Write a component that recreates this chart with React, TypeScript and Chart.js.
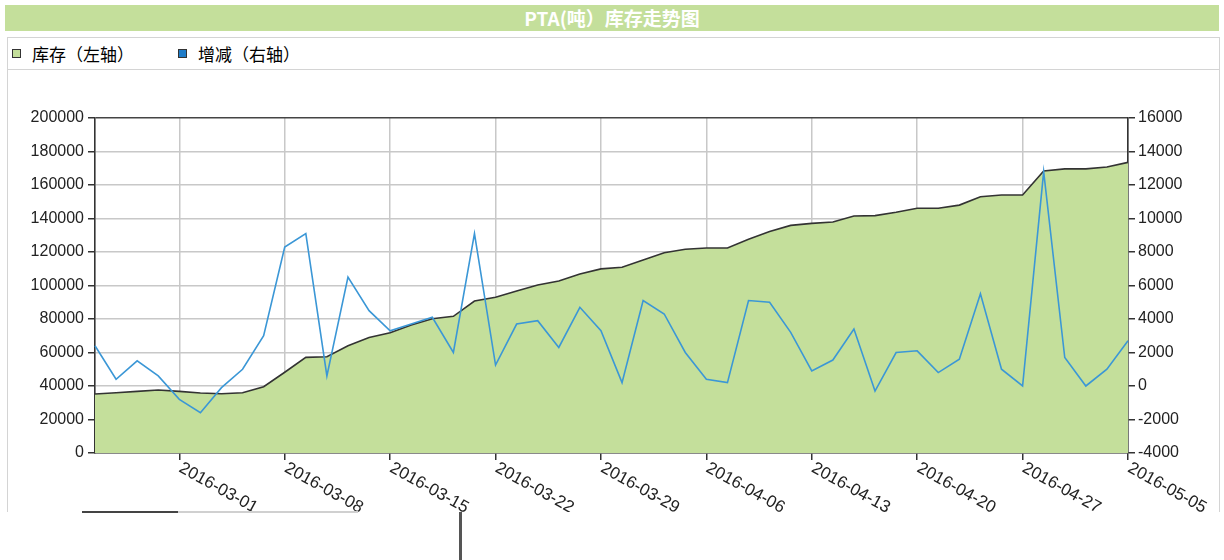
import React, { useEffect, useRef } from 'react';
import { Chart, registerables } from 'chart.js';

Chart.register(...registerables);

const dates = [
  '2016-02-24', '2016-02-25', '2016-02-26', '2016-02-29',
  '2016-03-01', '2016-03-02', '2016-03-03', '2016-03-04', '2016-03-07',
  '2016-03-08', '2016-03-09', '2016-03-10', '2016-03-11', '2016-03-14',
  '2016-03-15', '2016-03-16', '2016-03-17', '2016-03-18', '2016-03-21',
  '2016-03-22', '2016-03-23', '2016-03-24', '2016-03-25', '2016-03-28',
  '2016-03-29', '2016-03-30', '2016-03-31', '2016-04-01', '2016-04-05',
  '2016-04-06', '2016-04-07', '2016-04-08', '2016-04-11', '2016-04-12',
  '2016-04-13', '2016-04-14', '2016-04-15', '2016-04-18', '2016-04-19',
  '2016-04-20', '2016-04-21', '2016-04-22', '2016-04-25', '2016-04-26',
  '2016-04-27', '2016-04-28', '2016-04-29', '2016-05-03', '2016-05-04',
  '2016-05-05',
];

// 库存 (left axis, tons)
const inventory = [
  35200, 36000, 36800, 37600, 36800, 35800, 35400, 36000, 39600, 48200,
  57100, 57500, 64000, 69000, 71800, 76400, 80200, 81600, 90700, 93000,
  96700, 100300, 102700, 106900, 109900, 110900, 115200, 119600, 121600, 122400,
  122400, 127600, 132300, 135900, 137100, 137900, 141500, 141700, 143700, 146100,
  146100, 148000, 153000, 154000, 154000, 168400, 169600, 169600, 170700, 173500,
];

// 增减 (right axis, tons)
const change = [
  2400, 400, 1500, 600, -800, -1600, -100, 1000, 3000, 8300,
  9100, 600, 6500, 4500, 3300, 3700, 4100, 2000, 9100, 1250,
  3700, 3900, 2300, 4700, 3300, 200, 5100, 4300, 2000, 400,
  200, 5100, 5000, 3200, 900, 1550, 3400, -300, 2000, 2100,
  800, 1600, 5500, 1000, 0, 12800, 1700, 0, 1000, 2700,
];

const xTickLabels = [
  '2016-03-01', '2016-03-08', '2016-03-15', '2016-03-22', '2016-03-29',
  '2016-04-06', '2016-04-13', '2016-04-20', '2016-04-27', '2016-05-05',
];

const seriesNames = ['库存（左轴）', '增减（右轴）'];
const chartTitle = 'PTA(吨）库存走势图';

const FONT = '"Liberation Sans", Arial, sans-serif';
const CJK = '"Noto Sans CJK SC", "Liberation Sans", sans-serif';
const GREEN = '#c4df9b';
const BLUE = '#3b97d6';

export default function App() {
  const ref = useRef<HTMLCanvasElement>(null);

  useEffect(() => {
    const xLabelPlugin = {
      id: 'xLabels',
      afterDraw(chart: any) {
        const scale = chart.scales.x;
        const ctx = chart.ctx;
        ctx.save();
        ctx.font = `17px ${FONT}`;
        ctx.fillStyle = '#222';
        ctx.textAlign = 'left';
        ctx.textBaseline = 'middle';
        scale.ticks.forEach((t: any) => {
          const x = scale.getPixelForValue(t.value);
          ctx.save();
          ctx.translate(x + 1, scale.top + 14);
          ctx.rotate((29 * Math.PI) / 180);
          ctx.fillText(dates[t.value], 0, 0);
          ctx.restore();
        });
        ctx.restore();
      },
    };

    const chart = new Chart(ref.current as HTMLCanvasElement, {
      type: 'line',
      data: {
        labels: dates,
        datasets: [
          {
            label: seriesNames[1],
            data: change,
            yAxisID: 'y1',
            borderColor: BLUE,
            borderWidth: 1.6,
            pointRadius: 0,
            fill: false,
            tension: 0,
            order: 0,
          },
          {
            label: seriesNames[0],
            data: inventory,
            yAxisID: 'y',
            borderColor: '#333333',
            backgroundColor: GREEN,
            borderWidth: 1.6,
            pointRadius: 0,
            fill: 'start',
            tension: 0,
            order: 1,
          },
        ],
      },
      options: {
        animation: false,
        responsive: false,
        maintainAspectRatio: false,
        layout: { padding: { top: 48, left: 0, right: 0, bottom: 0 } },
        plugins: {
          legend: { display: false },
          tooltip: { enabled: false },
          title: { display: false },
        },
        scales: {
          x: {
            type: 'category',
            offset: false,
            afterBuildTicks: (scale: any) => {
              scale.ticks = scale.ticks.filter((t: any) => xTickLabels.includes(dates[t.value]));
            },
            afterFit: (scale: any) => {
              scale.height = 59;
            },
            ticks: { display: false },
            grid: {
              color: '#c8c8c8',
              lineWidth: 1.5,
              tickColor: '#333333',
              tickLength: 7,
              drawTicks: true,
            },
            border: { color: '#333333', width: 1.6 },
          },
          y: {
            position: 'left',
            min: 0,
            max: 200000,
            afterFit: (scale: any) => {
              scale.width = 87;
            },
            ticks: {
              stepSize: 20000,
              font: { family: FONT, size: 16 },
              color: '#222',
              padding: 4,
              callback: (v: any) => String(v),
            },
            grid: {
              color: (c: any) => (c.tick && c.tick.value === 200000 ? '#444444' : '#c8c8c8'),
              lineWidth: 1.5,
              tickColor: '#333333',
              tickLength: 7,
            },
            border: { color: '#333333', width: 1.6 },
          },
          y1: {
            position: 'right',
            min: -4000,
            max: 16000,
            afterFit: (scale: any) => {
              scale.width = 91;
            },
            ticks: {
              stepSize: 2000,
              font: { family: FONT, size: 16 },
              color: '#222',
              padding: 3,
              callback: (v: any) => String(v),
            },
            grid: {
              drawOnChartArea: false,
              tickColor: '#333333',
              tickLength: 7,
              lineWidth: 1.5,
            },
            border: { color: '#333333', width: 1.6 },
          },
        },
      },
      plugins: [xLabelPlugin],
    } as any);

    return () => chart.destroy();
  }, []);

  const square = (bg: string) => ({
    display: 'inline-block',
    width: 9,
    height: 9,
    background: bg,
    border: '1px solid #333',
    boxSizing: 'border-box' as const,
    marginRight: 11,
  });

  return (
    <div style={{ position: 'fixed', left: 0, top: 0, width: 1224, height: 560, background: '#fff', overflow: 'hidden' }}>
      <div
        style={{
          position: 'absolute',
          left: 5,
          top: 5,
          width: 1214,
          height: 26,
          background: GREEN,
          color: '#fff',
          fontFamily: CJK,
          fontWeight: 700,
          fontSize: 19,
          lineHeight: '26px',
          textAlign: 'center',
        }}
      >
        {chartTitle}
      </div>
      <div
        style={{
          position: 'absolute',
          left: 7,
          top: 37,
          width: 1213,
          height: 475,
          borderLeft: '1px solid #d4d4d4',
          borderRight: '1px solid #d4d4d4',
          borderTop: '1px solid #d4d4d4',
          boxSizing: 'border-box',
        }}
      />
      <div
        style={{
          position: 'absolute',
          left: 8,
          top: 69,
          width: 1211,
          height: 1,
          background: '#d4d4d4',
        }}
      />
      <div
        style={{
          position: 'absolute',
          left: 12,
          top: 38,
          height: 30,
          display: 'flex',
          alignItems: 'center',
          fontFamily: CJK,
          fontSize: 17,
          color: '#000',
          whiteSpace: 'nowrap',
        }}
      >
        <span style={square(GREEN)} />
        <span style={{ marginRight: 44 }}>{seriesNames[0]}</span>
        <span style={square('#1f7cc8')} />
        <span>{seriesNames[1]}</span>
      </div>
      <canvas
        ref={ref}
        width={1211}
        height={442}
        style={{ position: 'absolute', left: 8, top: 70, width: 1211, height: 442 }}
      />
      <div style={{ position: 'absolute', left: 82, top: 511, width: 96, height: 2, background: '#444' }} />
      <div style={{ position: 'absolute', left: 178, top: 511, width: 180, height: 2, background: '#d0d0d0' }} />
      <div style={{ position: 'absolute', left: 459, top: 512, width: 3, height: 48, background: '#555' }} />
    </div>
  );
}
